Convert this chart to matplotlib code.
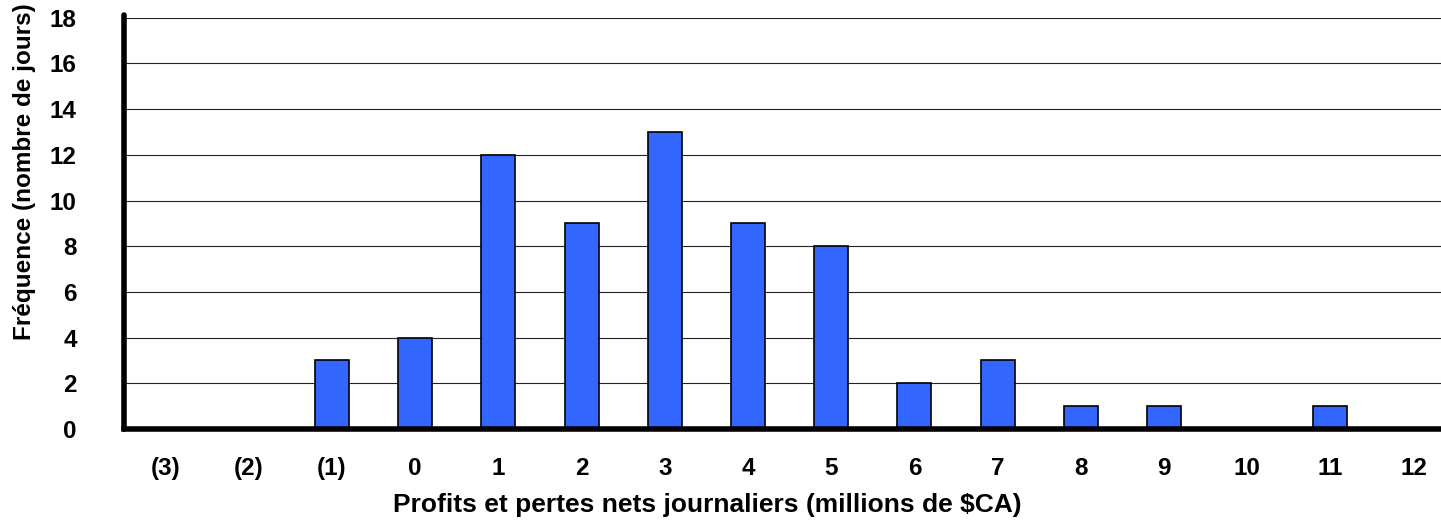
import matplotlib
matplotlib.use("Agg")
import matplotlib.pyplot as plt

categories = ["(3)", "(2)", "(1)", "0", "1", "2", "3", "4", "5", "6", "7", "8", "9", "10", "11", "12"]
frequencies = [0, 0, 3, 4, 12, 9, 13, 9, 8, 2, 3, 1, 1, 0, 1, 0]
y_ticks = [0, 2, 4, 6, 8, 10, 12, 14, 16, 18]

plt.rcParams['font.family'] = ['Liberation Sans', 'DejaVu Sans']
plt.rcParams['font.weight'] = 'bold'

W, H = 1441, 521
fig = plt.figure(figsize=(W / 100, H / 100), dpi=100)
left_px, right_px = 124, 124 + 16 * 83.2
bottom_px, top_px = 429, 17.7
ax = fig.add_axes([left_px / W, (H - bottom_px) / H, (right_px - left_px) / W, (bottom_px - top_px) / H])

x = list(range(len(categories)))
ax.bar(x, frequencies, width=0.41, color='#3366FF', edgecolor='black', linewidth=1.2, zorder=3)

ax.set_xlim(-0.5, len(categories) - 0.5)
ax.set_ylim(0, 18)
ax.set_yticks(y_ticks)
ax.set_yticklabels([str(v) for v in y_ticks], fontsize=17.5, fontweight='bold')
ax.set_xticks(x)
ax.set_xticklabels(categories, fontsize=17.5, fontweight='bold')
ax.tick_params(axis='y', length=0, pad=34)
ax.tick_params(axis='x', length=0, pad=20)

for v in y_ticks[1:]:
    ax.axhline(v, color='#222222', linewidth=0.8, zorder=1)

for s in ['top', 'right']:
    ax.spines[s].set_visible(False)
ax.spines['left'].set_linewidth(4)
ax.spines['bottom'].set_linewidth(4)
ax.spines['left'].set_capstyle('round')
ax.spines['left'].set_bounds(0, 18.1)
ax.spines['left'].set_zorder(5)
ax.spines['bottom'].set_zorder(5)

fig.text(707 / W, 1 - 505 / H, "Profits et pertes nets journaliers (millions de $CA)",
         ha='center', va='center', fontsize=19, fontweight='bold')
fig.text(25 / W, 1 - 172 / H, "Fréquence (nombre de jours)", rotation=90,
         ha='center', va='center', fontsize=17.5, fontweight='bold')

fig.savefig("out.png", dpi=100)
